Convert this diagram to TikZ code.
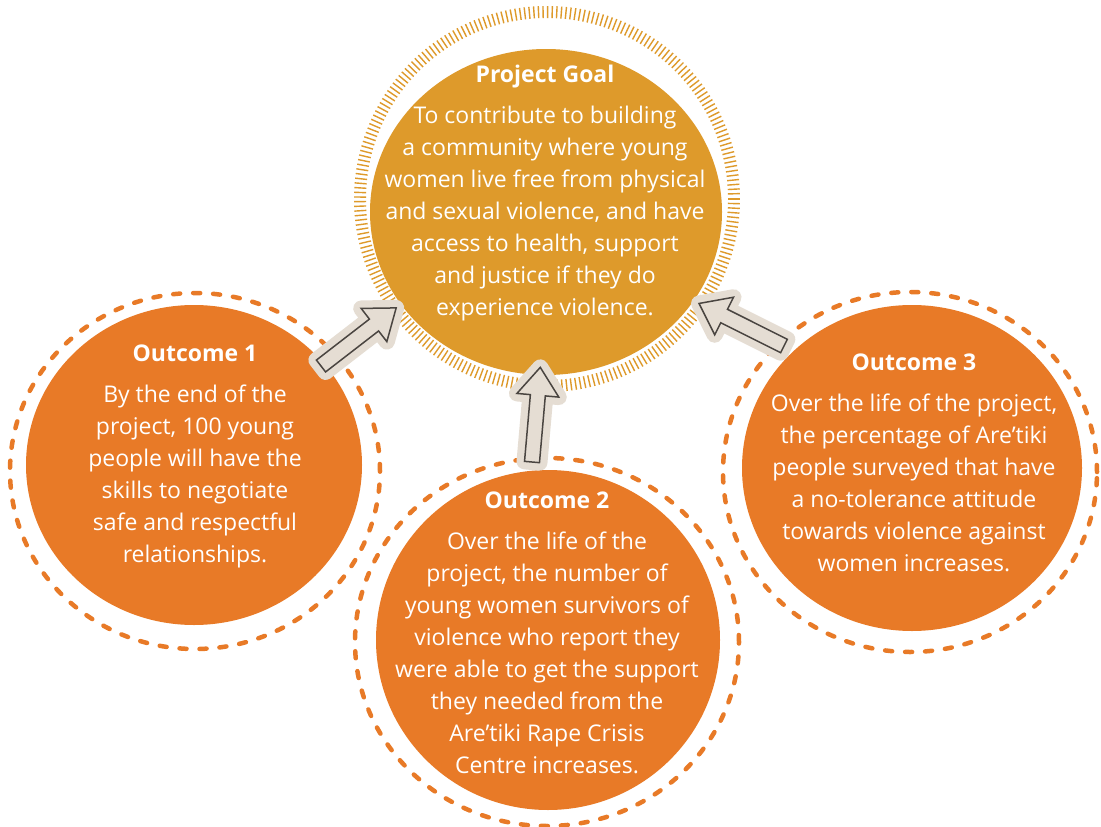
\documentclass[tikz,border=0pt]{standalone}
\usepackage{fontspec}
\setsansfont{Open Sans}
\usetikzlibrary{calc}

\definecolor{goalfill}{HTML}{DE9A2B}
\definecolor{outfill}{HTML}{E87A27}
\definecolor{arrowfill}{HTML}{E5DDD3}
\definecolor{arrowink}{HTML}{4A4541}

\tikzset{
  bodytext/.style={text=white, align=center, inner sep=0pt,
    font=\sffamily\fontsize{23}{32}\selectfont},
  dashring/.style={draw=outfill, line width=4.5pt, line cap=round,
    dash pattern=on 7pt off 13pt},
  hatchtick/.style={draw=goalfill, line width=1.4pt},
  arrowpad/.style={fill=arrowfill, draw=arrowfill, line width=16pt, line join=round},
  arrowedge/.style={fill=arrowfill, draw=arrowink, line width=1.5pt, line join=miter},
}

\begin{document}
\begin{tikzpicture}[x=1pt, y=-1pt]
  \useasboundingbox[fill=white] (0,0) rectangle (1101,827);

  % goal blob with hatched ring
  \foreach \a in {0,1.4,...,358.7}
    \draw[hatchtick] ({547+181*cos(\a)},{199+181*sin(\a)}) -- ({547+193*cos(\a)},{199+193*sin(\a)});
  \fill[goalfill] (546,212) ellipse [x radius=176pt, y radius=163pt];

  % outcome blobs with dashed rings
  \draw[dashring] (195,471) ellipse [x radius=185pt, y radius=178pt];
  \fill[outfill] (194,465) ellipse [x radius=168pt, y radius=160pt];
  \draw[dashring] (547,642) ellipse [x radius=192pt, y radius=184pt];
  \fill[outfill] (548,640) ellipse [x radius=172pt, y radius=170pt];
  \draw[dashring] (910,472) ellipse [x radius=187pt, y radius=180pt];
  \fill[outfill] (912,468) ellipse [x radius=170pt, y radius=163pt];

  % texts
  \node[bodytext] (goal) at (545,193) {{\bfseries Project Goal}\\[9pt]
    To contribute to building\\a community where young\\women live free from physical\\
    and sexual violence, and have\\access to health, support\\and justice if they do\\
    experience violence.};
  \node[bodytext] (out1) at (195,456) {{\bfseries Outcome 1}\\[9pt]
    By the end of the\\project, 100 young\\people will have the\\skills to negotiate\\
    safe and respectful\\relationships.};
  \node[bodytext] (out2) at (547,633) {{\bfseries Outcome 2}\\[9pt]
    Over the life of the\\project, the number of\\young women survivors of\\
    violence who report they\\were able to get the support\\they needed from the\\
    Are'tiki Rape Crisis\\Centre increases.};
  \node[bodytext] (out3) at (914,463) {{\bfseries Outcome 3}\\[9pt]
    Over the life of the project,\\the percentage of Are'tiki\\people surveyed that have\\
    a no-tolerance attitude\\towards violence against\\women increases.};

  % block arrows from the outcomes to the goal
  \coordinate (t1) at (321,366);
  \coordinate (t2) at (532,462);
  \coordinate (t3) at (784,346);
  \foreach \t/\ang in {t1/37.7, t2/85, t3/153.4} {
    \begin{scope}[shift={(\t)}, rotate=\ang]
      \draw[arrowpad] (0,-7.5) -- (67,-7.5) -- (67,-21) -- (95,0) -- (67,21) -- (67,7.5) -- (0,7.5) -- cycle;
      \draw[arrowedge] (0,-7.5) -- (67,-7.5) -- (67,-21) -- (95,0) -- (67,21) -- (67,7.5) -- (0,7.5) -- cycle;
    \end{scope}
  }
\end{tikzpicture}
\end{document}
